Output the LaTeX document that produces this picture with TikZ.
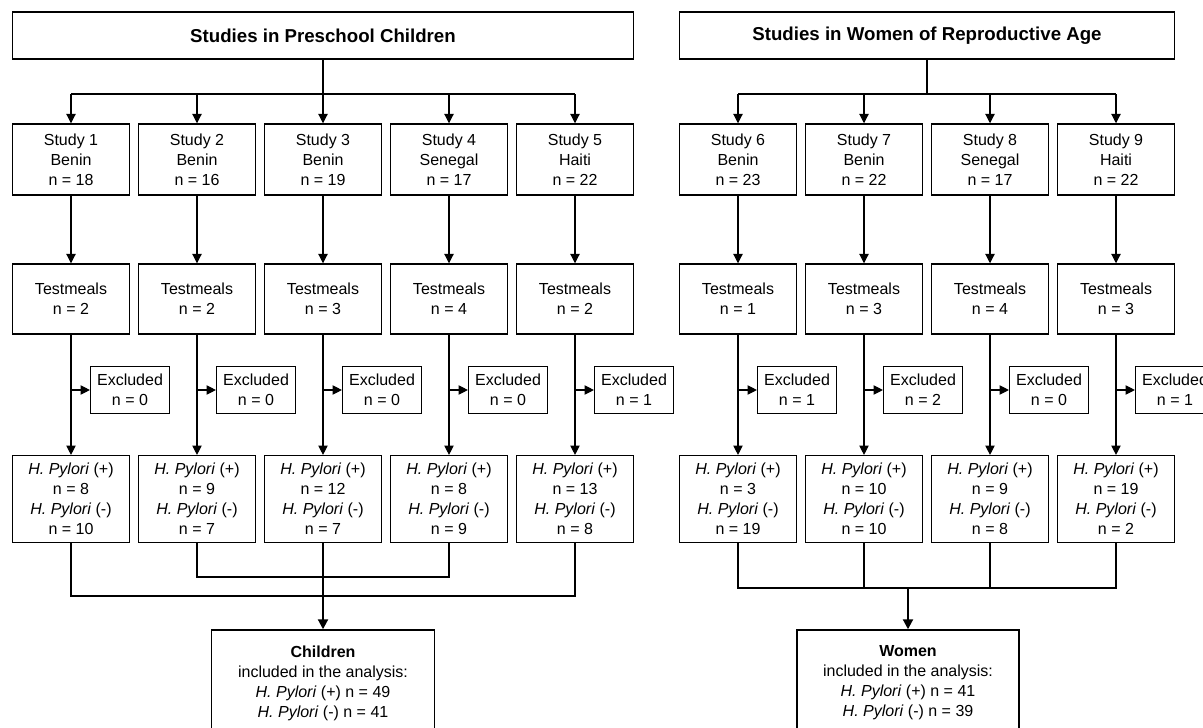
\documentclass[tikz,border=0pt]{standalone}
\usepackage{fontspec}
\setmainfont{Liberation Sans}
\usetikzlibrary{arrows.meta}
\begin{document}
\begin{tikzpicture}[x=0.75pt,y=-0.75pt,
  box/.style={draw=black, line width=1.1pt, fill=white, inner sep=0pt, align=center, font=\fontsize{12}{15}\selectfont},
  colbox/.style={box, minimum width=87.75pt},
  studybox/.style={colbox, minimum height=53.25pt},
  mealbox/.style={colbox, minimum height=52.5pt},
  hpbox/.style={colbox, minimum height=65pt},
  exclbox/.style={box, minimum width=59pt, minimum height=35pt},
  sumbox/.style={box, minimum height=79.5pt},
  titlebox/.style={box, minimum height=35.25pt, font=\fontsize{14}{17}\selectfont\bfseries},
  conn/.style={line width=0.8pt},
  arr/.style={conn, -{Triangle[length=7pt,width=7pt]}},
  bigarr/.style={line width=1.6pt, -{Triangle[length=7.5pt,width=7.5pt]}},
]
\clip (0,0) rectangle (1203,728);

% titles
\node[titlebox, minimum width=465.75pt] (T1) at (323,35.5) {Studies in Preschool Children};
\node[titlebox, minimum width=371.25pt] (T2) at (927,35.5) {Studies in Women of Reproductive Age};
\coordinate (bl) at (323,94);
\coordinate (br) at (927,94);

% left columns
\foreach \i/\x/\c/\n/\m/\e/\p/\q in {1/71/Benin/18/2/0/8/10, 2/197/Benin/16/2/0/9/7, 3/323/Benin/19/3/0/12/7, 4/449/Senegal/17/4/0/8/9, 5/575/Haiti/22/2/1/13/8}{
  \node[studybox] (s\i) at (\x,159.5) {Study \i\\\c\\n = \n};
  \node[mealbox] (m\i) at (\x,299) {Testmeals\\n = \m};
  \node[exclbox] (e\i) at (\x+59,390) {Excluded\\n = \e};
  \node[hpbox] (h\i) at (\x,499) {\textit{H. Pylori} (+)\\n = \p\\\textit{H. Pylori} (-)\\n = \q};
  \draw[arr] (s\i.north |- bl) -- (s\i.north);
  \draw[arr] (s\i) -- (m\i);
  \draw[arr] (m\i) -- (h\i);
  \draw[arr] (m\i.south |- e\i.west) -- (e\i.west);
}
% right columns
\foreach \i/\x/\c/\n/\m/\e/\p/\q in {6/738/Benin/23/1/1/3/19, 7/864/Benin/22/3/2/10/10, 8/990/Senegal/17/4/0/9/8, 9/1116/Haiti/22/3/1/19/2}{
  \node[studybox] (s\i) at (\x,159.5) {Study \i\\\c\\n = \n};
  \node[mealbox] (m\i) at (\x,299) {Testmeals\\n = \m};
  \node[exclbox] (e\i) at (\x+59,390) {Excluded\\n = \e};
  \node[hpbox] (h\i) at (\x,499) {\textit{H. Pylori} (+)\\n = \p\\\textit{H. Pylori} (-)\\n = \q};
  \draw[arr] (s\i.north |- br) -- (s\i.north);
  \draw[arr] (s\i) -- (m\i);
  \draw[arr] (m\i) -- (h\i);
  \draw[arr] (m\i.south |- e\i.west) -- (e\i.west);
}

% title trunks and branches
\draw[conn] (T1.south) -- (bl);
\draw[conn] (s1.north |- bl) -- (s5.north |- bl);
\draw[conn] (T2.south) -- (br);
\draw[conn] (s6.north |- br) -- (s9.north |- br);

% summary boxes
\node[sumbox, minimum width=167.25pt] (C) at (323,683) {\textbf{Children}\\included in the analysis:\\\textit{H. Pylori} (+) n = 49\\\textit{H. Pylori} (-) n = 41};
\node[sumbox, minimum width=166.5pt] (W) at (908,683) {\textbf{Women}\\included in the analysis:\\\textit{H. Pylori} (+) n = 41\\\textit{H. Pylori} (-) n = 39};

% left merge
\coordinate (jo) at (323,596);
\coordinate (ji) at (323,577);
\draw[conn] (h1.south) |- (jo) -| (h5.south);
\draw[conn] (h2.south) |- (ji) -| (h4.south);
\draw[conn] (h3.south) -- (ji);
\draw[bigarr] (ji) -- (C.north);

% right merge
\coordinate (jr) at (908,588);
\draw[conn] (h6.south) |- (jr) -| (h9.south);
\draw[conn] (h7.south) -- (h7.south |- jr);
\draw[conn] (h8.south) -- (h8.south |- jr);
\draw[bigarr] (jr) -- (W.north);
\end{tikzpicture}
\end{document}
